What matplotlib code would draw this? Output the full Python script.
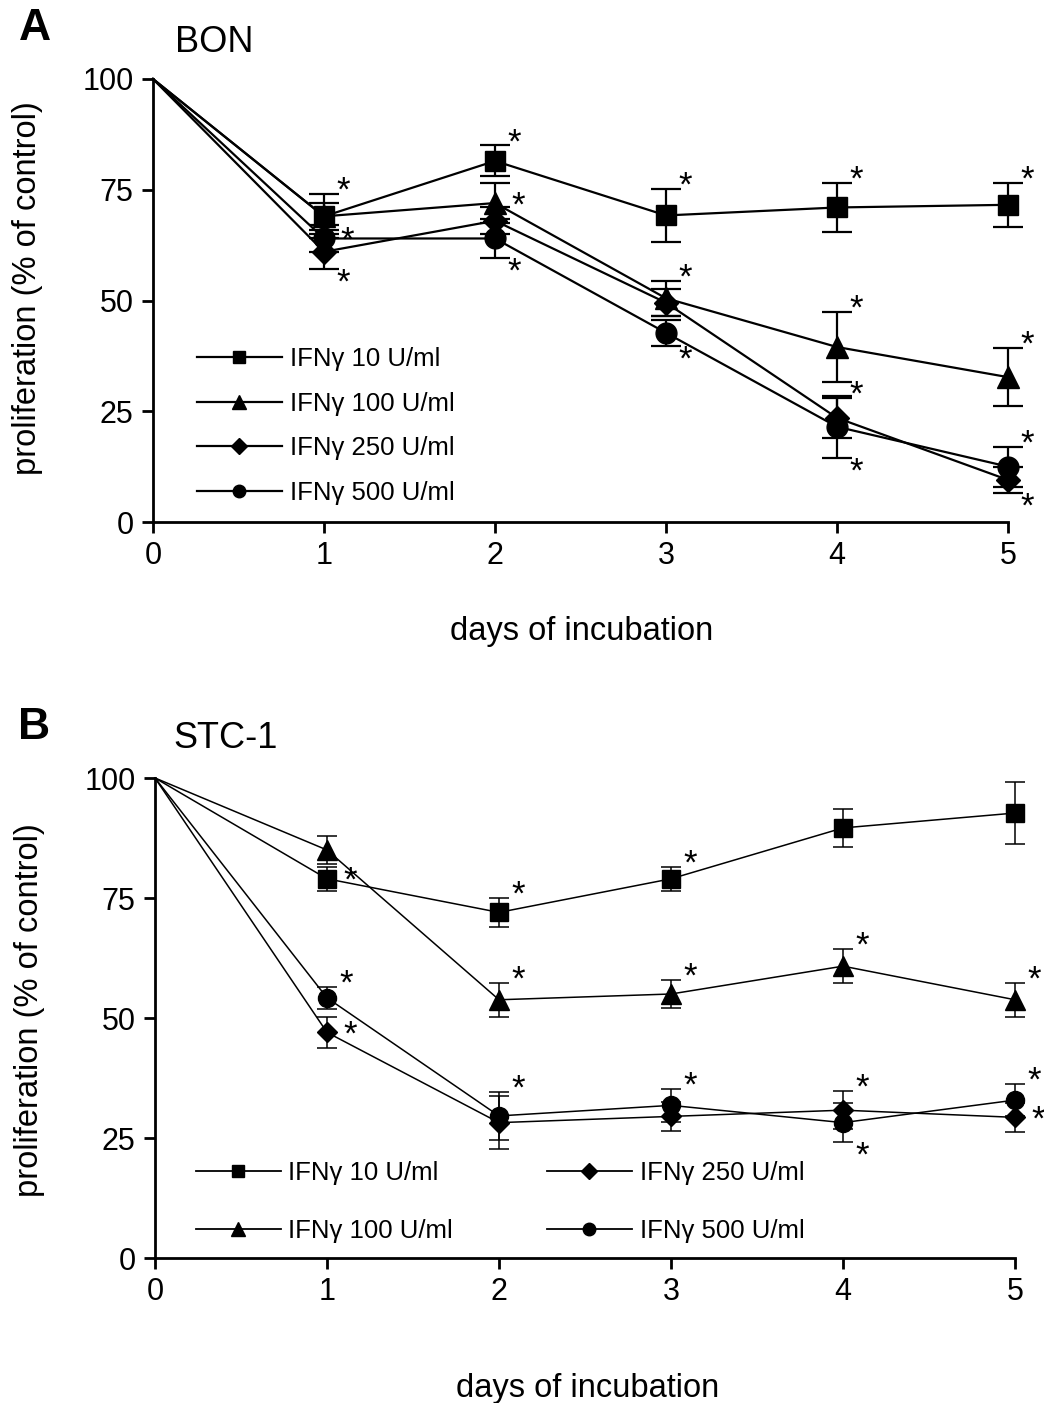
import numpy as np
import matplotlib
matplotlib.use('Agg')
import matplotlib.pyplot as plt
from matplotlib.lines import Line2D

plt.rcParams['font.family'] = ['Liberation Sans', 'DejaVu Sans']

days = [0, 1, 2, 3, 4, 5]
labels = ['IFNγ 10 U/ml', 'IFNγ 100 U/ml', 'IFNγ 250 U/ml', 'IFNγ 500 U/ml']
markers = ['s', '^', 'D', 'o']

# BON (panel A)
bon_vals = [
    [100, 69, 81.5, 69.2, 71, 71.6],
    [100, 69, 72, 50.5, 39.5, 32.7],
    [100, 61, 68, 49.5, 23.5, 9.5],
    [100, 64, 64, 42.7, 21.5, 12.5],
]
bon_err = [
    [0, 5, 3.5, 6, 5.5, 5],
    [0, 3, 4.5, 4, 8, 6.5],
    [0, 4, 3, 3, 4.5, 3],
    [0, 3, 4.5, 3, 7, 4.5],
]
# significance stars: 1 above error bar, -1 below, 0 beside marker, None no star
bon_stars = [
    [None, 1, 1, 1, 1, 1],
    [None, None, 0, 1, 1, 1],
    [None, -1, None, None, 1, -1],
    [None, 0, -1, -1, -1, 1],
]

# STC-1 (panel B)
stc_vals = [
    [100, 79, 72, 79, 89.6, 92.7],
    [100, 85, 53.8, 55, 60.8, 53.8],
    [100, 47, 28.2, 29.5, 30.8, 29.3],
    [100, 54.2, 29.6, 31.8, 28.2, 32.9],
]
stc_err = [
    [0, 2.5, 3, 2.5, 4, 6.5],
    [0, 3, 3.5, 3, 3.6, 3.5],
    [0, 3.3, 5.5, 3, 4, 3],
    [0, 2.3, 5, 3.5, 4, 3.3],
]
stc_stars = [
    [None, 0, 1, 1, None, None],
    [None, None, 1, 1, 1, 1],
    [None, 0, None, None, 1, 0],
    [None, 1, 1, 1, -1, 1],
]

W, H = 1044, 1403
fig = plt.figure(figsize=(W / 100, H / 100), dpi=100)


def fx(px):
    return px / W


def fy(py):
    return 1 - py / H


def panel(rect, vals, errs, stars, lw, cap, msizes):
    ax = fig.add_axes(rect)
    for i in range(4):
        ax.plot(days, vals[i], color='black', lw=lw, clip_on=False, zorder=3)
        ax.errorbar(days[1:], vals[i][1:], yerr=errs[i][1:], fmt=markers[i],
                    color='black', markersize=msizes[i], elinewidth=lw,
                    capsize=cap, capthick=lw, clip_on=False, zorder=4)
        for d, v, e, s in zip(days, vals[i], errs[i], stars[i]):
            if s is None:
                continue
            if s == 1:
                xy, off = (d, v + e), (9, 2)
            elif s == -1:
                xy, off = (d, v - e), (9, -10)
            else:
                xy, off = (d, v), (12, -2)
            ax.annotate('*', xy=xy, xytext=off, textcoords='offset points',
                        ha='left', va='center', fontsize=25)
    ax.set_xlim(0, 5)
    ax.set_ylim(0, 100)
    ax.set_xticks(days)
    ax.set_yticks([0, 25, 50, 75, 100])
    for sp in ['top', 'right']:
        ax.spines[sp].set_visible(False)
    for sp in ['left', 'bottom']:
        ax.spines[sp].set_linewidth(2)
    ax.tick_params(direction='out', length=8, width=2, labelsize=22, pad=6)
    return ax


axA = panel([fx(153), fy(522), fx(1008) - fx(153), fy(79) - fy(522)],
            bon_vals, bon_err, bon_stars, 1.6, 11, [15, 16, 12, 15])
axB = panel([fx(155), fy(1258), fx(1015) - fx(155), fy(778) - fy(1258)],
            stc_vals, stc_err, stc_stars, 1.1, 7, [13, 14, 10, 13])


def handles(lw, sizes):
    return [Line2D([], [], color='black', lw=lw, marker=m, markersize=s)
            for m, s in zip(markers, sizes)]


legA = axA.legend(handles(1.6, [9, 10, 8, 9]), labels, loc='center left',
                  bbox_to_anchor=(fx(197), fy(426)),
                  bbox_transform=fig.transFigure, frameon=False, fontsize=18.5,
                  handlelength=3.3, handletextpad=0.3, labelspacing=0.8,
                  borderpad=0, borderaxespad=0)
legB = axB.legend(handles(1.3, [9, 10, 8, 9]), labels, loc='center left',
                  bbox_to_anchor=(fx(196), fy(1202)),
                  bbox_transform=fig.transFigure, frameon=False, fontsize=18.5,
                  ncol=2, handlelength=3.3, handletextpad=0.3, labelspacing=1.3,
                  columnspacing=3.65, borderpad=0, borderaxespad=0)

fig.text(fx(35), fy(29), 'A', fontsize=32, fontweight='bold', ha='center', va='center')
fig.text(fx(175), fy(42), 'BON', fontsize=26, ha='left', va='center')
fig.text(fx(34), fy(727), 'B', fontsize=32, fontweight='bold', ha='center', va='center')
fig.text(fx(173), fy(738), 'STC-1', fontsize=26, ha='left', va='center')

fig.text(fx(582), fy(632), 'days of incubation', fontsize=23.5, ha='center', va='center')
fig.text(fx(588), fy(1388), 'days of incubation', fontsize=23.5, ha='center', va='center')
fig.text(fx(28), fy(288), 'proliferation (% of control)', fontsize=23.5,
         rotation=90, ha='center', va='center')
fig.text(fx(30), fy(1010), 'proliferation (% of control)', fontsize=23.5,
         rotation=90, ha='center', va='center')

fig.savefig('out.png', dpi=100)
